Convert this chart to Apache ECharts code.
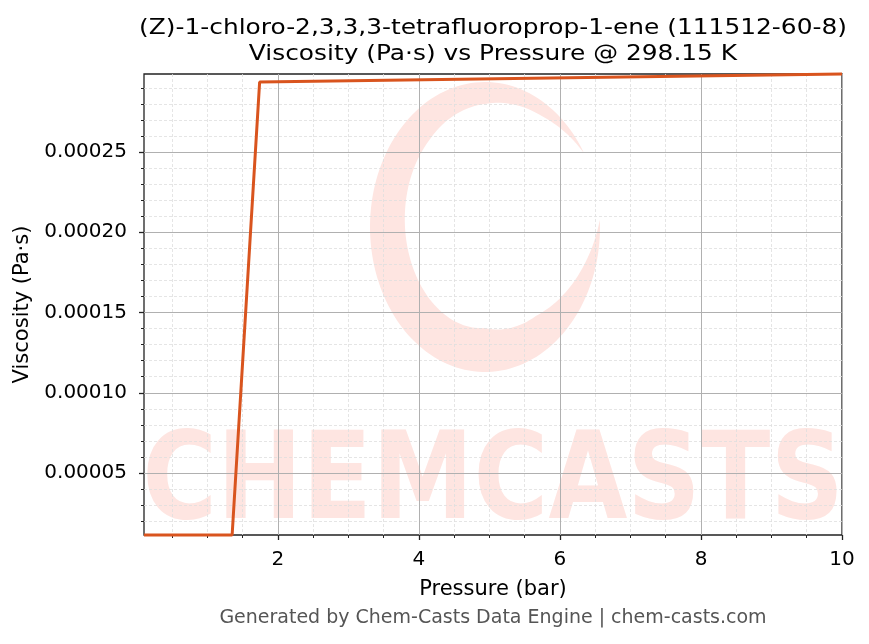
<!DOCTYPE html>
<html>
<head>
<meta charset="utf-8">
<script src="https://cdn.jsdelivr.net/npm/echarts@6/dist/echarts.min.js"></script>
<style>html,body{margin:0;padding:0;background:#fff}#c{width:869px;height:644px}</style>
</head>
<body>
<div id="c"></div>
<script>
// Data
const pressureBar = [0.1, 1.35, 1.74, 10];
const viscosityPaS = [0.0000114, 0.0000114, 0.0002936, 0.0002986];
const xMajorTicks = [2, 4, 6, 8, 10];
const xMinorTicks = [0.5, 1, 1.5, 2.5, 3, 3.5, 4.5, 5, 5.5, 6.5, 7, 7.5, 8.5, 9, 9.5];
const yMajorTicks = [0.00005, 0.0001, 0.00015, 0.0002, 0.00025];
const yMinorTicks = [0.00002, 0.00003, 0.00004, 0.00006, 0.00007, 0.00008, 0.00009,
  0.00011, 0.00012, 0.00013, 0.00014, 0.00016, 0.00017, 0.00018, 0.00019,
  0.00021, 0.00022, 0.00023, 0.00024, 0.00026, 0.00027, 0.00028, 0.00029];
const titleLines = ['(Z)-1-chloro-2,3,3,3-tetrafluoroprop-1-ene (111512-60-8)', 'Viscosity (Pa·s) vs Pressure @ 298.15 K'];

const FONT = '"DejaVu Sans", sans-serif';
const xMin = pressureBar[0], xMax = pressureBar[pressureBar.length - 1];
const yMin = Math.min(...viscosityPaS), yMax = Math.max(...viscosityPaS);

const chart = echarts.init(document.getElementById('c'), null, {renderer: 'canvas'});
const wm = '#fee5e1';

// Decorative watermark swirl (tapered crescent)
function swirlPoints() {
  const cx = 485, cy = 227, a = 115, b = 145;
  const prof = [[-0.05, 0], [0.3, 12], [0.9, 32], [1.57, 44], [3.14, 35], [4.0, 30], [4.71, 22], [5.3, 12], [5.75, 0]];
  const th = t => {
    for (let i = 1; i < prof.length; i++) {
      if (t <= prof[i][0]) {
        const [t0, v0] = prof[i - 1], [t1, v1] = prof[i];
        return v0 + (v1 - v0) * (t - t0) / (t1 - t0);
      }
    }
    return 0;
  };
  const outer = [], inner = [];
  for (let t = -0.05; t <= 5.75 + 1e-9; t += 0.04) {
    const w = th(t), c = Math.cos(t), s = Math.sin(t);
    outer.push([cx + a * c, cy + b * s]);
    inner.push([cx + (a - w) * c, cy + (b - w) * s]);
  }
  return outer.concat(inner.reverse());
}

const option = {
  backgroundColor: '#fff',
  animation: false,
  grid: {left: 144, right: 27, top: 74, bottom: 109, show: true, borderColor: '#222', borderWidth: 1.3, backgroundColor: 'transparent'},
  graphic: [
    {type: 'polygon', z: -5, silent: true, shape: {points: swirlPoints()}, style: {fill: wm}},
    {type: 'text', z: -5, silent: true, x: 493, y: 487, scaleX: 0.843,
      style: {text: 'CHEMCASTS', fontFamily: FONT, fontWeight: 'bold', fontSize: 121, fill: wm, align: 'center', verticalAlign: 'middle'}},
    {type: 'text', silent: true, x: 493, y: 15, scaleX: 1.13, originX: 0,
      style: {text: titleLines.join('\n'), fontFamily: FONT, fontSize: 22, fill: '#000', align: 'center', verticalAlign: 'top', lineHeight: 26}},
    {type: 'text', silent: true, x: 493, y: 618,
      style: {text: 'Generated by Chem-Casts Data Engine | chem-casts.com', fontFamily: FONT, fontSize: 19, fill: '#555', align: 'center', verticalAlign: 'middle'}}
  ],
  xAxis: [{
    type: 'value', position: 'bottom', min: xMin, max: xMax,
    name: 'Pressure (bar)', nameLocation: 'middle', nameGap: 44,
    nameTextStyle: {fontFamily: FONT, fontSize: 21, color: '#000'},
    axisLine: {show: false},
    axisTick: {show: true, length: 5, lineStyle: {color: '#222', width: 1.3}, customValues: xMajorTicks},
    axisLabel: {fontFamily: FONT, fontSize: 20, color: '#000', margin: 15, customValues: xMajorTicks},
    splitLine: {show: true, lineStyle: {color: '#b0b0b0', width: 1}}
  }, {
    type: 'value', position: 'bottom', min: xMin, max: xMax,
    axisLine: {show: false},
    axisTick: {show: true, length: 3, lineStyle: {color: '#222', width: 1}, customValues: xMinorTicks},
    axisLabel: {show: false},
    splitLine: {show: true, lineStyle: {color: '#dedede', width: 0.8, type: [3, 2]}}
  }],
  yAxis: [{
    type: 'value', position: 'left', min: yMin, max: yMax,
    name: 'Viscosity (Pa·s)', nameLocation: 'middle', nameGap: 110,
    nameTextStyle: {fontFamily: FONT, fontSize: 21, color: '#000'},
    axisLine: {show: false},
    axisTick: {show: true, length: 5, lineStyle: {color: '#222', width: 1.3}, customValues: yMajorTicks},
    axisLabel: {fontFamily: FONT, fontSize: 20, color: '#000', margin: 17, customValues: yMajorTicks,
      formatter: v => v.toFixed(5)},
    splitLine: {show: true, lineStyle: {color: '#b0b0b0', width: 1}}
  }, {
    type: 'value', position: 'left', min: yMin, max: yMax,
    axisLine: {show: false},
    axisTick: {show: true, length: 3, lineStyle: {color: '#222', width: 1}, customValues: yMinorTicks},
    axisLabel: {show: false},
    splitLine: {show: true, lineStyle: {color: '#dedede', width: 0.8, type: [3, 2]}}
  }],
  series: [{
    type: 'line', xAxisIndex: 0, yAxisIndex: 0, z: 5,
    data: pressureBar.map((p, i) => [p, viscosityPaS[i]]),
    showSymbol: false, symbol: 'none', clip: false,
    lineStyle: {color: '#d9541e', width: 3}
  }]
};
chart.setOption(option);
</script>
</body>
</html>
